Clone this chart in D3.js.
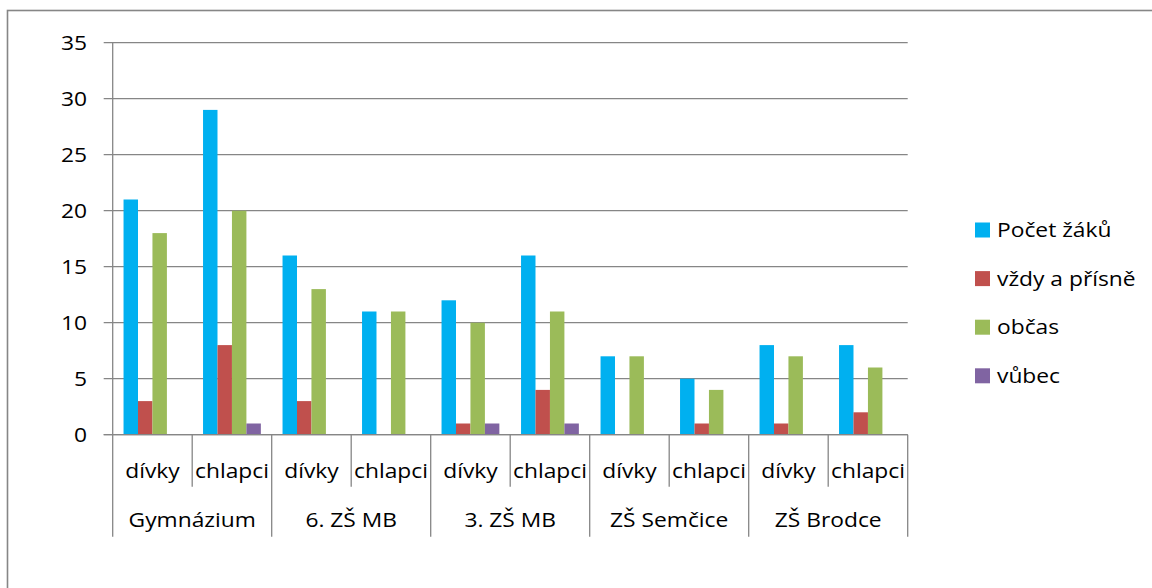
<!DOCTYPE html>
<html><head><meta charset="utf-8">
<script src="https://cdn.jsdelivr.net/npm/d3@7"></script>
<style>
html,body{margin:0;padding:0;background:#fff;}
svg{display:block;font-family:"Open Sans",sans-serif;}
</style></head>
<body><svg id="c" width="1152" height="588"></svg>
<script>
const groups = ["Gymnázium","6. ZŠ MB","3. ZŠ MB","ZŠ Semčice","ZŠ Brodce"];
const subgroups = ["dívky","chlapci"];
const seriesNames = ["Počet žáků","vždy a přísně","občas","vůbec"];
const colors = ["#00B0F0","#C0504D","#9BBB59","#8064A2"];
const pocetZaku = [21,29,16,11,12,16,7,5,8,8];
const vzdyAPrisne = [3,8,3,0,1,4,0,1,1,2];
const obcas = [18,20,13,11,10,11,7,4,7,6];
const vubec = [0,1,0,0,1,1,0,0,0,0];
const yTicks = [0,5,10,15,20,25,30,35];

const series = [pocetZaku,vzdyAPrisne,obcas,vubec];
const cats = [];
groups.forEach((g,gi)=>subgroups.forEach((s,si)=>cats.push({g,s,key:gi+"|"+si})));

const svg = d3.select("#c");
const X0=112.7, X1=907.7, Y0=434.7, Y1=42.7;
const gridCol="#868686";
const SX=1.14, FS=20;

function txt(sel, xf, yf){
  sel.attr("transform",(d,i)=>`translate(${xf(d,i)},${yf(d,i)}) scale(${SX},1)`)
     .attr("font-size",FS).attr("fill","#000");
  return sel;
}

svg.append("rect").attr("x",7.5).attr("y",10.5).attr("width",1200).attr("height",700)
  .attr("fill","none").attr("stroke",gridCol).attr("stroke-width",1.6);

const y = d3.scaleLinear().domain([0,35]).range([Y0,Y1]);
const x = d3.scaleBand().domain(cats.map(c=>c.key)).range([X0,X1]).paddingInner(0).paddingOuter(0);
const xs = d3.scaleBand().domain(d3.range(series.length)).range([0,x.bandwidth()]).paddingInner(0).paddingOuter(0.75);

// gridlines
svg.append("g").selectAll("line").data(yTicks).join("line")
  .attr("x1",X0-9).attr("x2",X1).attr("y1",d=>y(d)).attr("y2",d=>y(d))
  .attr("stroke",gridCol).attr("stroke-width",1.3);

// y labels
txt(svg.append("g").selectAll("text").data(yTicks).join("text"), ()=>87, d=>y(d))
  .attr("dy","0.36em").attr("text-anchor","end").text(d=>d);

// bars
series.forEach((vals,si)=>{
  svg.append("g").selectAll("rect").data(cats).join("rect")
    .attr("x",(c)=>x(c.key)+xs(si)).attr("width",xs.bandwidth())
    .attr("y",(c,i)=>y(vals[i])).attr("height",(c,i)=>y(0)-y(vals[i]))
    .attr("fill",colors[si]);
});

// axes lines
svg.append("line").attr("x1",X0).attr("x2",X0).attr("y1",Y1).attr("y2",Y0).attr("stroke",gridCol).attr("stroke-width",1.3);
svg.append("line").attr("x1",X0-9).attr("x2",X1).attr("y1",Y0).attr("y2",Y0).attr("stroke",gridCol).attr("stroke-width",1.3);

// category boundaries
const bounds = d3.range(cats.length+1);
svg.append("g").selectAll("line").data(bounds).join("line")
  .attr("x1",i=>i<cats.length?x(cats[i].key):X1).attr("x2",i=>i<cats.length?x(cats[i].key):X1)
  .attr("y1",Y0).attr("y2",i=>i%2===0?536.7:486.7)
  .attr("stroke",gridCol).attr("stroke-width",1.3);

// sub labels
txt(svg.append("g").selectAll("text").data(cats).join("text"), c=>x(c.key)+x.bandwidth()/2, ()=>478)
  .attr("text-anchor","middle").text(c=>c.s);

// group labels
txt(svg.append("g").selectAll("text").data(groups).join("text"), (g,gi)=>x(gi+"|0")+x.bandwidth(), ()=>527)
  .attr("text-anchor","middle").text(g=>g);

// legend
const lg = svg.append("g").selectAll("g").data(seriesNames).join("g")
  .attr("transform",(d,i)=>`translate(975,${230+i*48.6})`);
lg.append("rect").attr("x",0).attr("y",-7.5).attr("width",15).attr("height",15).attr("fill",(d,i)=>colors[i]);
lg.append("text").attr("transform",`translate(22,0) scale(${SX},1)`).attr("dy","0.36em")
  .attr("font-size",FS).attr("fill","#000").text(d=>d);
</script></body></html>
